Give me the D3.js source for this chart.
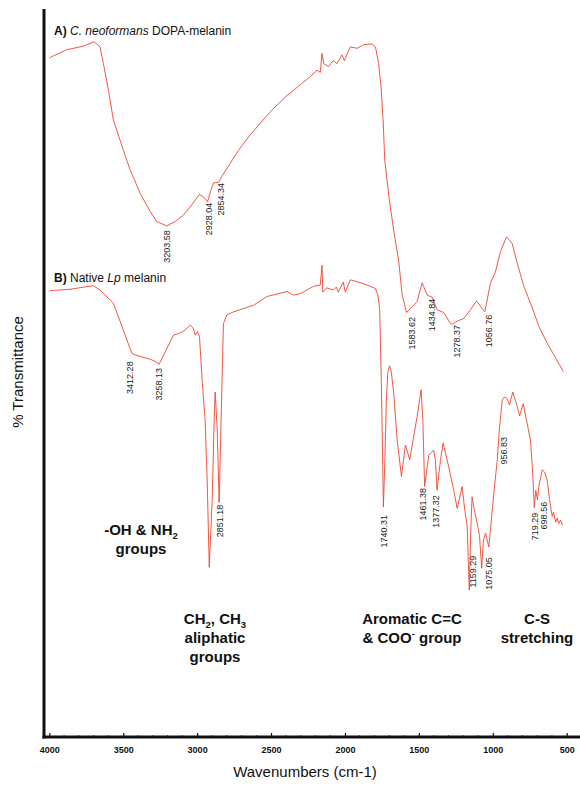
<!DOCTYPE html>
<html>
<head>
<meta charset="utf-8">
<script src="https://cdn.jsdelivr.net/npm/d3@7"></script>
<style>
  html, body { margin: 0; padding: 0; background: #fff; }
  svg { display: block; font-family: Arial, "Liberation Sans", sans-serif; }
</style>
</head>
<body>
<svg id="chart" width="580" height="786"></svg>
<script>
// ---------------- DATA ----------------
// Spectrum A: C. neoformans DOPA-melanin  [wavenumber cm-1, % transmittance (arbitrary offset)]
const spectrumA = [
  [4000,93.3],[3882,94.4],[3770,94.9],[3697,95.5],[3657,94.8],[3634,92.5],[3600,88.9],[3567,84.8],
  [3499,80.6],[3453,77.9],[3386,74.7],[3318,72.2],[3273,70.8],[3205,70.2],[3149,70.8],[3093,71.7],
  [3036,73.1],[2986,74.5],[2957,74.2],[2930,73.5],[2907,75.1],[2889,76.1],[2855,76.2],[2833,77.0],
  [2776,78.8],[2720,80.6],[2641,82.7],[2505,85.9],[2404,87.9],[2302,89.6],[2235,90.7],[2189,91.6],
  [2167,91.3],[2155,93.9],[2144,92.5],[2111,92.1],[2080,92.9],[2054,92.5],[2020,93.7],[2004,92.9],[1994,93.4],
  [1964,94.8],[1918,94.6],[1874,95.1],[1817,95.2],[1794,94.8],[1772,92.5],[1756,89.3],[1742,84.8],
  [1731,79.3],[1700,73.8],[1666,69.0],[1637,65.5],[1614,60.9],[1584,58.3],[1546,59.1],[1512,59.8],
  [1478,62.4],[1444,60.7],[1410,60.4],[1377,58.7],[1332,58.3],[1286,56.8],[1273,56.7],[1253,57.0],
  [1196,57.5],[1151,58.7],[1110,59.9],[1088,59.3],[1054,58.4],[1016,62.3],[982,63.9],[948,66.7],
  [907,68.7],[869,67.8],[835,65.1],[790,61.9],[745,59.6],[688,56.4],[632,54.1],[587,52.5],[523,50.2]
];
// Spectrum B: Native Lp melanin
const spectrumB = [
  [4000,61.3],[3860,61.5],[3702,62.0],[3657,61.4],[3567,59.6],[3499,55.9],[3442,52.7],[3420,52.5],
  [3372,52.2],[3318,51.9],[3284,51.6],[3257,51.2],[3216,52.9],[3160,55.2],[3115,55.5],[3081,55.9],
  [3047,56.6],[3027,56.2],[3013,55.2],[2998,55.7],[2984,55.0],[2966,49.0],[2946,43.5],[2932,35.3],
  [2918,23.3],[2898,32.6],[2885,43.5],[2878,47.4],[2864,42.2],[2851,32.2],[2838,43.5],[2822,56.8],
  [2799,58.0],[2754,58.4],[2619,59.3],[2528,60.5],[2392,61.2],[2350,60.7],[2302,60.9],[2212,61.9],
  [2167,62.1],[2155,64.8],[2150,61.1],[2126,61.7],[2079,61.4],[2058,61.8],[2045,61.1],[2011,62.5],
  [1998,61.1],[1964,62.8],[1910,62.5],[1851,62.1],[1794,61.6],[1777,60.7],[1765,58.7],[1754,49.0],
  [1744,36.7],[1740,31.6],[1730,38.0],[1720,46.3],[1710,50.1],[1698,51.0],[1686,50.1],[1670,47.2],
  [1647,40.8],[1618,35.8],[1591,40.1],[1562,38.1],[1512,44.0],[1485,47.7],[1473,43.5],[1461,34.4],
  [1433,38.7],[1415,39.1],[1400,39.4],[1388,38.0],[1377,33.9],[1354,38.0],[1336,40.4],[1298,37.1],
  [1264,33.9],[1241,31.4],[1207,34.4],[1192,31.6],[1173,28.9],[1159,20.2],[1149,28.4],[1140,33.0],
  [1129,31.6],[1106,29.4],[1090,27.7],[1075,23.2],[1063,27.1],[1049,28.0],[1027,26.1],[1016,28.4],
  [993,33.5],[970,38.0],[957,41.9],[936,46.3],[921,46.7],[903,46.5],[887,45.6],[865,47.4],
  [835,45.4],[819,44.1],[794,45.8],[772,43.5],[745,40.8],[731,36.7],[719,31.5],[709,33.9],
  [698,32.6],[687,34.6],[665,36.7],[650,36.4],[632,35.3],[616,32.6],[598,30.3],[589,30.9],
  [575,29.5],[564,30.1],[555,29.3],[542,29.8],[528,29.1]
];
// Peak labels: [label text, wavenumber, %T where the label starts]
const peaksA = [
  ["3203.58",3203.58,69.6],["2928.04",2928.04,73.4],["2854.34",2854.34,76.1],
  ["1583.62",1583.62,57.7],["1434.84",1434.84,60.2],["1278.37",1278.37,56.6],["1056.76",1056.76,58.0]
];
const peaksB = [
  ["3412.28",3412.28,51.6],["3258.13",3258.13,50.7],["2851.18",2851.18,31.9],["1740.31",1740.31,30.5],
  ["1461.38",1461.38,34.2],["1377.32",1377.32,33.2],["1159.29",1159.29,24.9],["1075.05",1075.05,24.7],
  ["956.83",956.83,41.2],["719.29",719.29,30.8],["698.56",698.56,32.3]
];
const xTicks = [4000,3500,3000,2500,2000,1500,1000,500];
const xMinorTicks = d3.range(4000, 399, -100);

// ---------------- LAYOUT ----------------
const svg = d3.select("#chart");
const axisX0 = 44, axisY = 737, axisTop = 9;
const x = d3.scaleLinear().domain([4000, 500]).range([49.3, 566.7]);
const y = d3.scaleLinear().domain([0, 100]).range([axisY, axisTop]);
const lineColor = "#f0442f";

const line = d3.line().x(d => x(d[0])).y(d => y(d[1])).curve(d3.curveLinear);

svg.append("path").datum(spectrumA).attr("d", line)
  .attr("fill", "none").attr("stroke", lineColor).attr("stroke-width", 0.9);
svg.append("path").datum(spectrumB).attr("d", line)
  .attr("fill", "none").attr("stroke", lineColor).attr("stroke-width", 0.9);

// peak labels (rotated)
const nudgeA = [0, 1, 2, 5, 3, 5, 4];
const nudgeB = [-6, 0, 1, 0, -2, -1, 4, 7, 5, 0.5, 6];
function drawPeaks(peaks, nudge) {
  svg.append("g").selectAll("text").data(peaks).join("text")
    .attr("transform", (d, i) => `translate(${x(d[1]) + nudge[i] + 3.2},${y(d[2])}) rotate(-90)`)
    .attr("text-anchor", "end")
    .attr("font-size", 9)
    .attr("fill", "#222")
    .text(d => d[0]);
}
drawPeaks(peaksA, nudgeA);
drawPeaks(peaksB, nudgeB);

// X axis
const xAxis = d3.axisBottom(x).tickValues(xTicks).tickSizeInner(-4).tickSizeOuter(0).tickPadding(10)
  .tickFormat(d3.format("d"));
const gx = svg.append("g").attr("transform", `translate(0,${axisY})`).call(xAxis);
gx.select(".domain").remove();
gx.selectAll(".tick line").attr("stroke", "#111").attr("stroke-width", 1.2);
gx.selectAll(".tick text").attr("font-size", 9).attr("font-weight", "bold").attr("fill", "#111")
  .attr("font-family", "Arial, 'Liberation Sans', sans-serif");
gx.append("g").selectAll("line").data(xMinorTicks.filter(v => !xTicks.includes(v))).join("line")
  .attr("x1", d => x(d)).attr("x2", d => x(d)).attr("y1", 0).attr("y2", -2)
  .attr("stroke", "#333").attr("stroke-width", 0.8);
svg.append("line").attr("x1", axisX0 - 1.5).attr("x2", 580).attr("y1", axisY).attr("y2", axisY)
  .attr("stroke", "#111").attr("stroke-width", 3);
svg.append("line").attr("x1", axisX0).attr("x2", axisX0).attr("y1", axisTop).attr("y2", axisY + 1.5)
  .attr("stroke", "#111").attr("stroke-width", 3);

// Axis titles
svg.append("text").attr("x", 305).attr("y", 777).attr("text-anchor", "middle")
  .attr("font-size", 15).attr("fill", "#111").text("Wavenumbers (cm-1)");
svg.append("text").attr("transform", "translate(23,372) rotate(-90)").attr("text-anchor", "middle")
  .attr("font-size", 15).attr("fill", "#111").text("% Transmittance");

// Spectrum titles
const tA = svg.append("text").attr("x", 54).attr("y", 35).attr("font-size", 12).attr("fill", "#111");
tA.append("tspan").attr("font-weight", "bold").text("A) ");
tA.append("tspan").attr("font-style", "italic").text("C. neoformans");
tA.append("tspan").text(" DOPA-melanin");
const tB = svg.append("text").attr("x", 54).attr("y", 282).attr("font-size", 12).attr("fill", "#111");
tB.append("tspan").attr("font-weight", "bold").text("B) ");
tB.append("tspan").text("Native ");
tB.append("tspan").attr("font-style", "italic").text("Lp");
tB.append("tspan").text(" melanin");

// Group annotations
function annotate(cx, yy, lines) {
  lines.forEach((parts, i) => {
    const t = svg.append("text").attr("x", cx).attr("y", yy + i * 19).attr("text-anchor", "middle")
      .attr("font-size", 15).attr("font-weight", "bold").attr("fill", "#111");
    parts.forEach(p => {
      if (p.sub) t.append("tspan").attr("font-size", 9.5).attr("dy", 3.5).text(p.sub);
      else if (p.sup) t.append("tspan").attr("font-size", 9.5).attr("dy", -6).text(p.sup);
      else t.append("tspan").attr("dy", p.reset || 0).text(p.t);
    });
  });
}
annotate(141, 535, [[{t: "-OH & NH"}, {sub: "2"}], [{t: "groups"}]]);
annotate(215, 624, [[{t: "CH"}, {sub: "2"}, {t: ", CH", reset: -3.5}, {sub: "3"}], [{t: "aliphatic"}], [{t: "groups"}]]);
annotate(412, 624, [[{t: "Aromatic C=C"}], [{t: "& COO"}, {sup: "-"}, {t: " group", reset: 6}]]);
annotate(537, 624, [[{t: "C-S"}], [{t: "stretching"}]]);
</script>
</body>
</html>
